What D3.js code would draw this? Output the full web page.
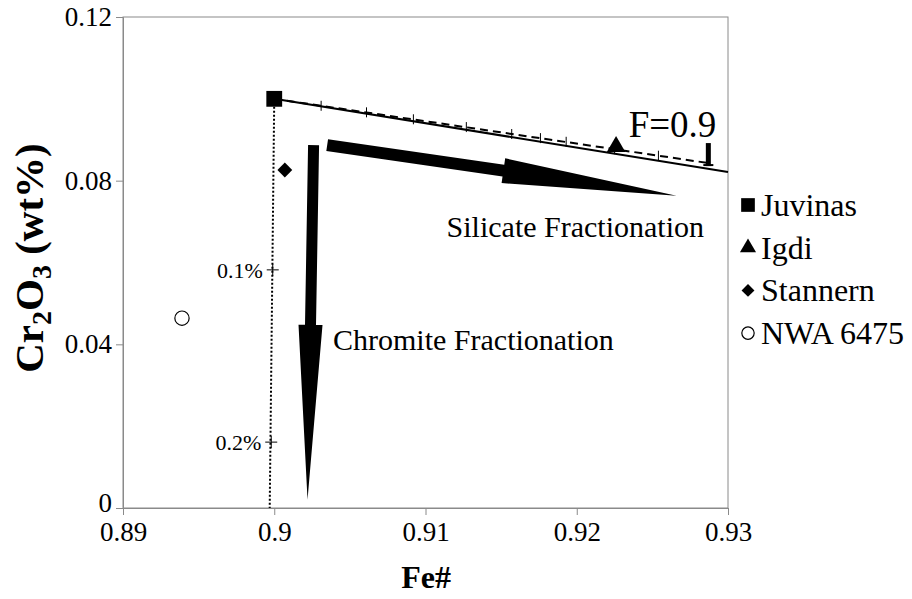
<!DOCTYPE html>
<html>
<head>
<meta charset="utf-8">
<script src="https://cdn.jsdelivr.net/npm/d3@7/dist/d3.min.js"></script>
<style>
  html, body { margin: 0; padding: 0; background: #fff; }
  svg { display: block; }
  svg text { font-family: "Liberation Serif", "Times New Roman", serif; fill: #000; }
</style>
</head>
<body>
<svg id="chart" width="912" height="599"></svg>
<script>
// ---- data ----
const xTicks = [0.89, 0.90, 0.91, 0.92, 0.93];
const xTickLabels = ["0.89", "0.9", "0.91", "0.92", "0.93"];
const yTicks = [0, 0.04, 0.08, 0.12];
const yTickLabels = ["0", "0.04", "0.08", "0.12"];

const sampleNames = ["Juvinas", "Igdi", "Stannern", "NWA 6475"];
const sampleFe = [0.9000, 0.9226, 0.9007, 0.8939];
const sampleCr = [0.1000, 0.0883, 0.0826, 0.0464];
const sampleSymbols = ["square", "triangle", "diamond", "circle"];

// solid trend line from Juvinas
const trendFe = [0.9000, 0.9300];
const trendCr = [0.1000, 0.0821];
// dashed silicate fractionation model to F=0.9
const modelFe = [0.9000, 0.9287];
const modelCr = [0.1000, 0.0843];
const modelTickFe = [0.9031, 0.9061, 0.9092, 0.9127, 0.9157, 0.9176, 0.9193, 0.9225, 0.9254];
const modelTickCr = [0.0983, 0.0967, 0.0950, 0.0931, 0.0914, 0.0904, 0.0895, 0.0877, 0.0861];
const modelEndLabel = "F=0.9";
// dotted chromite fractionation line
const chromFe = [0.9000, 0.8997];
const chromCr = [0.1000, 0.0000];
const chromTickFe = [0.8999, 0.8998];
const chromTickCr = [0.0582, 0.0161];
const chromTickLabels = ["0.1%", "0.2%"];
// arrows
const silArrowFe = [0.9035, 0.9266];
const silArrowCr = [0.0887, 0.0763];
const chrArrowFe = [0.9026, 0.9022];
const chrArrowCr = [0.0887, 0.0020];

// ---- layout ----
const svg = d3.select("#chart");
const FONT = "'Liberation Serif', 'Times New Roman', serif";
const L = 123, R = 728, T = 17, B = 508;
const x = d3.scaleLinear().domain([0.89, 0.93]).range([L, R]);
const y = d3.scaleLinear().domain([0, 0.12]).range([B, T]);
const axisColor = "#8a8a8a";

// frame
svg.append("rect").attr("x", L).attr("y", T).attr("width", R - L).attr("height", B - T)
  .attr("fill", "none").attr("stroke", axisColor).attr("stroke-width", 1);

// axes
const xAxis = svg.append("g").attr("transform", `translate(0,${B})`)
  .call(d3.axisBottom(x).tickValues(xTicks).tickFormat((d, i) => xTickLabels[i]).tickSize(7).tickPadding(7));
const yAxis = svg.append("g").attr("transform", `translate(${L},0)`)
  .call(d3.axisLeft(y).tickValues(yTicks).tickFormat((d, i) => yTickLabels[i]).tickSize(7).tickPadding(4));
[xAxis, yAxis].forEach(g => {
  g.attr("font-family", FONT).attr("font-size", 27);
  g.select(".domain").attr("stroke", axisColor);
  g.selectAll(".tick line").attr("stroke", axisColor);
  g.selectAll(".tick text").attr("fill", "#000").style("font-family", FONT).style("font-size", "27px");
});
// lift the "0" label slightly so it does not collide with "0.89"
yAxis.selectAll(".tick text").filter(d => d === 0).attr("dy", "0.12em");

// axis titles
svg.append("text").attr("x", 426).attr("y", 588).attr("text-anchor", "middle")
  .style("font-size", "32px").style("font-weight", "bold").text("Fe#");
const yt = svg.append("text").attr("transform", `translate(43,${258}) rotate(-90)`)
  .attr("text-anchor", "middle").style("font-size", "41px").style("font-weight", "bold");
yt.append("tspan").text("Cr");
yt.append("tspan").attr("dy", 8).style("font-size", "28px").text("2");
yt.append("tspan").attr("dy", -8).text("O");
yt.append("tspan").attr("dy", 8).style("font-size", "28px").text("3");
yt.append("tspan").attr("dy", -8).text(" (wt%)");

// dotted chromite line
svg.append("line").attr("x1", x(chromFe[0])).attr("y1", y(chromCr[0]))
  .attr("x2", x(chromFe[1])).attr("y2", y(chromCr[1]))
  .attr("stroke", "#000").attr("stroke-width", 2).attr("stroke-dasharray", "2,2");
chromTickFe.forEach((f, i) => {
  const cx = x(f), cy = y(chromTickCr[i]);
  svg.append("line").attr("x1", cx - 6).attr("x2", cx + 6).attr("y1", cy).attr("y2", cy).attr("stroke", "#000").attr("stroke-width", 1);
  svg.append("line").attr("x1", cx).attr("x2", cx).attr("y1", cy - 6).attr("y2", cy + 6).attr("stroke", "#000").attr("stroke-width", 1);
  svg.append("text").attr("x", cx - 10).attr("y", cy + 8).attr("text-anchor", "end")
    .style("font-size", "22px").text(chromTickLabels[i]);
});

// solid trend line
svg.append("line").attr("x1", x(trendFe[0])).attr("y1", y(trendCr[0]))
  .attr("x2", x(trendFe[1])).attr("y2", y(trendCr[1]))
  .attr("stroke", "#000").attr("stroke-width", 2);
// dashed model line
svg.append("line").attr("x1", x(modelFe[0])).attr("y1", y(modelCr[0]))
  .attr("x2", x(modelFe[1])).attr("y2", y(modelCr[1]))
  .attr("stroke", "#000").attr("stroke-width", 2).attr("stroke-dasharray", "8,5");
modelTickFe.forEach((f, i) => {
  const cx = x(f), cy = y(modelTickCr[i]);
  svg.append("line").attr("x1", cx).attr("x2", cx).attr("y1", cy - 5).attr("y2", cy + 5).attr("stroke", "#000").attr("stroke-width", 1);
});
{
  const ex = x(modelFe[1]), ey = y(modelCr[1]);
  svg.append("line").attr("x1", ex).attr("x2", ex).attr("y1", ey - 20).attr("y2", ey + 3).attr("stroke", "#000").attr("stroke-width", 5);
  svg.append("line").attr("x1", ex - 5).attr("x2", ex + 5).attr("y1", ey + 2).attr("y2", ey + 2).attr("stroke", "#000").attr("stroke-width", 2);
  svg.append("text").attr("x", ex + 8).attr("y", ey - 26).attr("text-anchor", "end")
    .style("font-size", "37px").text(modelEndLabel);
}

// block arrows
function blockArrow(fe, cr, shaftW, headW, headLen) {
  const x0 = x(fe[0]), y0 = y(cr[0]), x1 = x(fe[1]), y1 = y(cr[1]);
  const dx = x1 - x0, dy = y1 - y0, len = Math.hypot(dx, dy);
  const ux = dx / len, uy = dy / len, nx = -uy, ny = ux;
  const bx = x1 - ux * headLen, by = y1 - uy * headLen;
  const p = [
    [x0 + nx * shaftW / 2, y0 + ny * shaftW / 2],
    [bx + nx * shaftW / 2, by + ny * shaftW / 2],
    [bx + nx * headW / 2, by + ny * headW / 2],
    [x1, y1],
    [bx - nx * headW / 2, by - ny * headW / 2],
    [bx - nx * shaftW / 2, by - ny * shaftW / 2],
    [x0 - nx * shaftW / 2, y0 - ny * shaftW / 2]
  ];
  svg.append("path").attr("d", d3.line()(p) + "Z").attr("fill", "#000");
}
blockArrow(silArrowFe, silArrowCr, 12, 25, 175);
blockArrow(chrArrowFe, chrArrowCr, 11, 24, 175);

// annotations
svg.append("text").attr("x", 704).attr("y", 237).attr("text-anchor", "end").style("font-size", "30px").text("Silicate Fractionation");
svg.append("text").attr("x", 333).attr("y", 350).style("font-size", "30px").text("Chromite Fractionation");

// symbols
const symType = { square: d3.symbolSquare, triangle: d3.symbolTriangle, diamond: d3.symbolSquare, circle: d3.symbolCircle };
const symSize = { square: 250, triangle: 150, diamond: 110, circle: 160 };
const symRot = { square: 0, triangle: 0, diamond: 45, circle: 0 };
function drawSym(g, type, cx, cy, scale) {
  const s = d3.symbol().type(symType[type]).size(symSize[type] * scale);
  const el = g.append("path").attr("d", s()).attr("transform", `translate(${cx},${cy}) rotate(${symRot[type]})`);
  if (type === "circle") el.attr("fill", "#fff").attr("stroke", "#000").attr("stroke-width", 1.2);
  else el.attr("fill", "#000");
}
sampleNames.forEach((n, i) => drawSym(svg, sampleSymbols[i], x(sampleFe[i]), y(sampleCr[i]), 1));

// legend
const legY0 = 205, legStep = 42.7, legX = 748;
sampleNames.forEach((n, i) => {
  const cy = legY0 + i * legStep;
  drawSym(svg, sampleSymbols[i], legX, cy, 0.75);
  svg.append("text").attr("x", legX + 13).attr("y", cy + 11).style("font-size", "32px").text(n);
});
</script>
</body>
</html>
